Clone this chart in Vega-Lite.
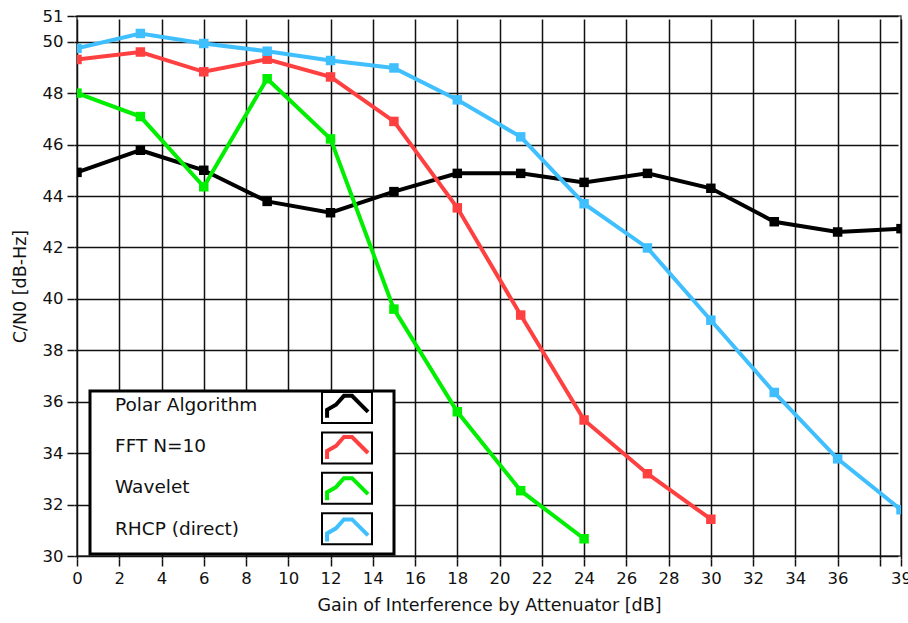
{
  "$schema": "https://vega.github.io/schema/vega-lite/v6.json",
  "width": 824,
  "height": 540,
  "autosize": {"type": "none"},
  "padding": {"left": 77, "top": 16, "right": 7, "bottom": 67},
  "background": "white",
  "config": {
    "font": "DejaVu Sans",
    "view": {"stroke": "#444", "strokeWidth": 1.5},
    "axis": {
      "labelFont": "DejaVu Sans",
      "labelFontSize": 16.5,
      "labelColor": "#111",
      "titleFont": "DejaVu Sans",
      "titleFontSize": 17.5,
      "titleFontWeight": "normal",
      "titleColor": "#111",
      "tickColor": "#111",
      "tickWidth": 1.5,
      "tickSize": 7,
      "offset": 3,
      "domain": false,
      "grid": true,
      "gridColor": "#111",
      "gridWidth": 1.5,
      "gridOpacity": 1,
      "labelPadding": 4,
      "labelOverlap": false,
      "labelFlush": false
    }
  },
  "data": {
    "values": [
      {"series": "Polar Algorithm", "gain": 0, "cn0": 44.92},
      {"series": "Polar Algorithm", "gain": 3, "cn0": 45.78},
      {"series": "Polar Algorithm", "gain": 6, "cn0": 45.0},
      {"series": "Polar Algorithm", "gain": 9, "cn0": 43.79},
      {"series": "Polar Algorithm", "gain": 12, "cn0": 43.35},
      {"series": "Polar Algorithm", "gain": 15, "cn0": 44.17},
      {"series": "Polar Algorithm", "gain": 18, "cn0": 44.88},
      {"series": "Polar Algorithm", "gain": 21, "cn0": 44.88},
      {"series": "Polar Algorithm", "gain": 24, "cn0": 44.53},
      {"series": "Polar Algorithm", "gain": 27, "cn0": 44.88},
      {"series": "Polar Algorithm", "gain": 30, "cn0": 44.3},
      {"series": "Polar Algorithm", "gain": 33, "cn0": 43.0},
      {"series": "Polar Algorithm", "gain": 36, "cn0": 42.6},
      {"series": "Polar Algorithm", "gain": 39, "cn0": 42.73},
      {"series": "FFT N=10", "gain": 0, "cn0": 49.31},
      {"series": "FFT N=10", "gain": 3, "cn0": 49.6},
      {"series": "FFT N=10", "gain": 6, "cn0": 48.83},
      {"series": "FFT N=10", "gain": 9, "cn0": 49.32},
      {"series": "FFT N=10", "gain": 12, "cn0": 48.63},
      {"series": "FFT N=10", "gain": 15, "cn0": 46.9},
      {"series": "FFT N=10", "gain": 18, "cn0": 43.54},
      {"series": "FFT N=10", "gain": 21, "cn0": 39.37},
      {"series": "FFT N=10", "gain": 24, "cn0": 35.29},
      {"series": "FFT N=10", "gain": 27, "cn0": 33.2},
      {"series": "FFT N=10", "gain": 30, "cn0": 31.43},
      {"series": "Wavelet", "gain": 0, "cn0": 48.0},
      {"series": "Wavelet", "gain": 3, "cn0": 47.09},
      {"series": "Wavelet", "gain": 6, "cn0": 44.36},
      {"series": "Wavelet", "gain": 9, "cn0": 48.56},
      {"series": "Wavelet", "gain": 12, "cn0": 46.22},
      {"series": "Wavelet", "gain": 15, "cn0": 39.6},
      {"series": "Wavelet", "gain": 18, "cn0": 35.61},
      {"series": "Wavelet", "gain": 21, "cn0": 32.54},
      {"series": "Wavelet", "gain": 24, "cn0": 30.67},
      {"series": "RHCP (direct)", "gain": 0, "cn0": 49.74},
      {"series": "RHCP (direct)", "gain": 3, "cn0": 50.32},
      {"series": "RHCP (direct)", "gain": 6, "cn0": 49.93},
      {"series": "RHCP (direct)", "gain": 9, "cn0": 49.63},
      {"series": "RHCP (direct)", "gain": 12, "cn0": 49.27},
      {"series": "RHCP (direct)", "gain": 15, "cn0": 48.98},
      {"series": "RHCP (direct)", "gain": 18, "cn0": 47.74},
      {"series": "RHCP (direct)", "gain": 21, "cn0": 46.3},
      {"series": "RHCP (direct)", "gain": 24, "cn0": 43.7},
      {"series": "RHCP (direct)", "gain": 27, "cn0": 41.98},
      {"series": "RHCP (direct)", "gain": 30, "cn0": 39.17},
      {"series": "RHCP (direct)", "gain": 33, "cn0": 36.36},
      {"series": "RHCP (direct)", "gain": 36, "cn0": 33.78},
      {"series": "RHCP (direct)", "gain": 39, "cn0": 31.8}
    ]
  },
  "encoding": {
    "x": {
      "field": "gain",
      "type": "quantitative",
      "scale": {"domain": [0, 39], "nice": false, "zero": false},
      "axis": {
        "title": "Gain of Interference by Attenuator [dB]",
        "values": [0, 2, 4, 6, 8, 10, 12, 14, 16, 18, 20, 22, 24, 26, 28, 30, 32, 34, 36, 38, 39],
        "labelExpr": "datum.value == 38 ? '' : datum.label",
        "titlePadding": 10
      }
    },
    "y": {
      "field": "cn0",
      "type": "quantitative",
      "scale": {"domain": [30, 51], "nice": false, "zero": false},
      "axis": {
        "title": "C/N0 [dB-Hz]",
        "values": [30, 32, 34, 36, 38, 40, 42, 44, 46, 48, 50, 51],
        "titlePadding": 13
      }
    }
  },
  "layer": [
    {
      "mark": {"type": "line", "strokeWidth": 4, "interpolate": "linear", "clip": true},
      "encoding": {
        "color": {
          "field": "series",
          "type": "nominal",
          "scale": {
            "domain": ["Polar Algorithm", "FFT N=10", "Wavelet", "RHCP (direct)"],
            "range": ["#000000", "#ff4040", "#00ee00", "#40bfff"]
          },
          "legend": {
            "orient": "none",
            "legendX": 13,
            "legendY": 375,
            "title": " ",
            "titleOrient": "right",
            "titlePadding": 14,
            "padding": 4,
            "fillColor": "white",
            "strokeColor": "black",
            "symbolType": "M-2.49,1.6L-2.49,0.6L-1.38,-0.03L-0.38,-1.15L0.63,-1.15L1.63,-0.15L2.63,0.85",
            "symbolSize": 256,
            "symbolStrokeWidth": 4,
            "symbolFillColor": "transparent",
            "symbolOffset": 243,
            "labelOffset": -242,
            "labelFont": "DejaVu Sans",
            "labelFontSize": 18.5,
            "labelColor": "#111",
            "labelLimit": 0,
            "rowPadding": 2.2,
            "encode": {
              "legend": {"update": {"strokeWidth": {"value": 3}}},
              "symbols": {"update": {"fillOpacity": {"value": 0}}}
            }
          }
        }
      }
    },
    {
      "mark": {"type": "point", "shape": "square", "filled": true, "size": 90, "opacity": 1, "strokeWidth": 0, "clip": true},
      "encoding": {
        "fill": {
          "field": "series",
          "type": "nominal",
          "scale": {
            "domain": ["Polar Algorithm", "FFT N=10", "Wavelet", "RHCP (direct)"],
            "range": ["#000000", "#ff4040", "#00ee00", "#40bfff"]
          },
          "legend": null
        }
      }
    },
    {
      "mark": {"type": "point", "filled": false, "color": "black", "opacity": 0, "clip": true},
      "encoding": {
        "shape": {
          "field": "series",
          "type": "nominal",
          "scale": {"range": ["M-2,-1.24H2V1.24H-2Z"]},
          "legend": {
            "orient": "none",
            "legendX": 256.5,
            "legendY": 378,
            "title": null,
            "padding": 0,
            "symbolSize": 625,
            "symbolStrokeWidth": 2,
            "symbolStrokeColor": "black",
            "symbolFillColor": "transparent",
            "symbolOpacity": 1,
            "symbolOffset": 0,
            "labelExpr": "''",
            "rowPadding": 1.4
          }
        }
      }
    }
  ]
}
